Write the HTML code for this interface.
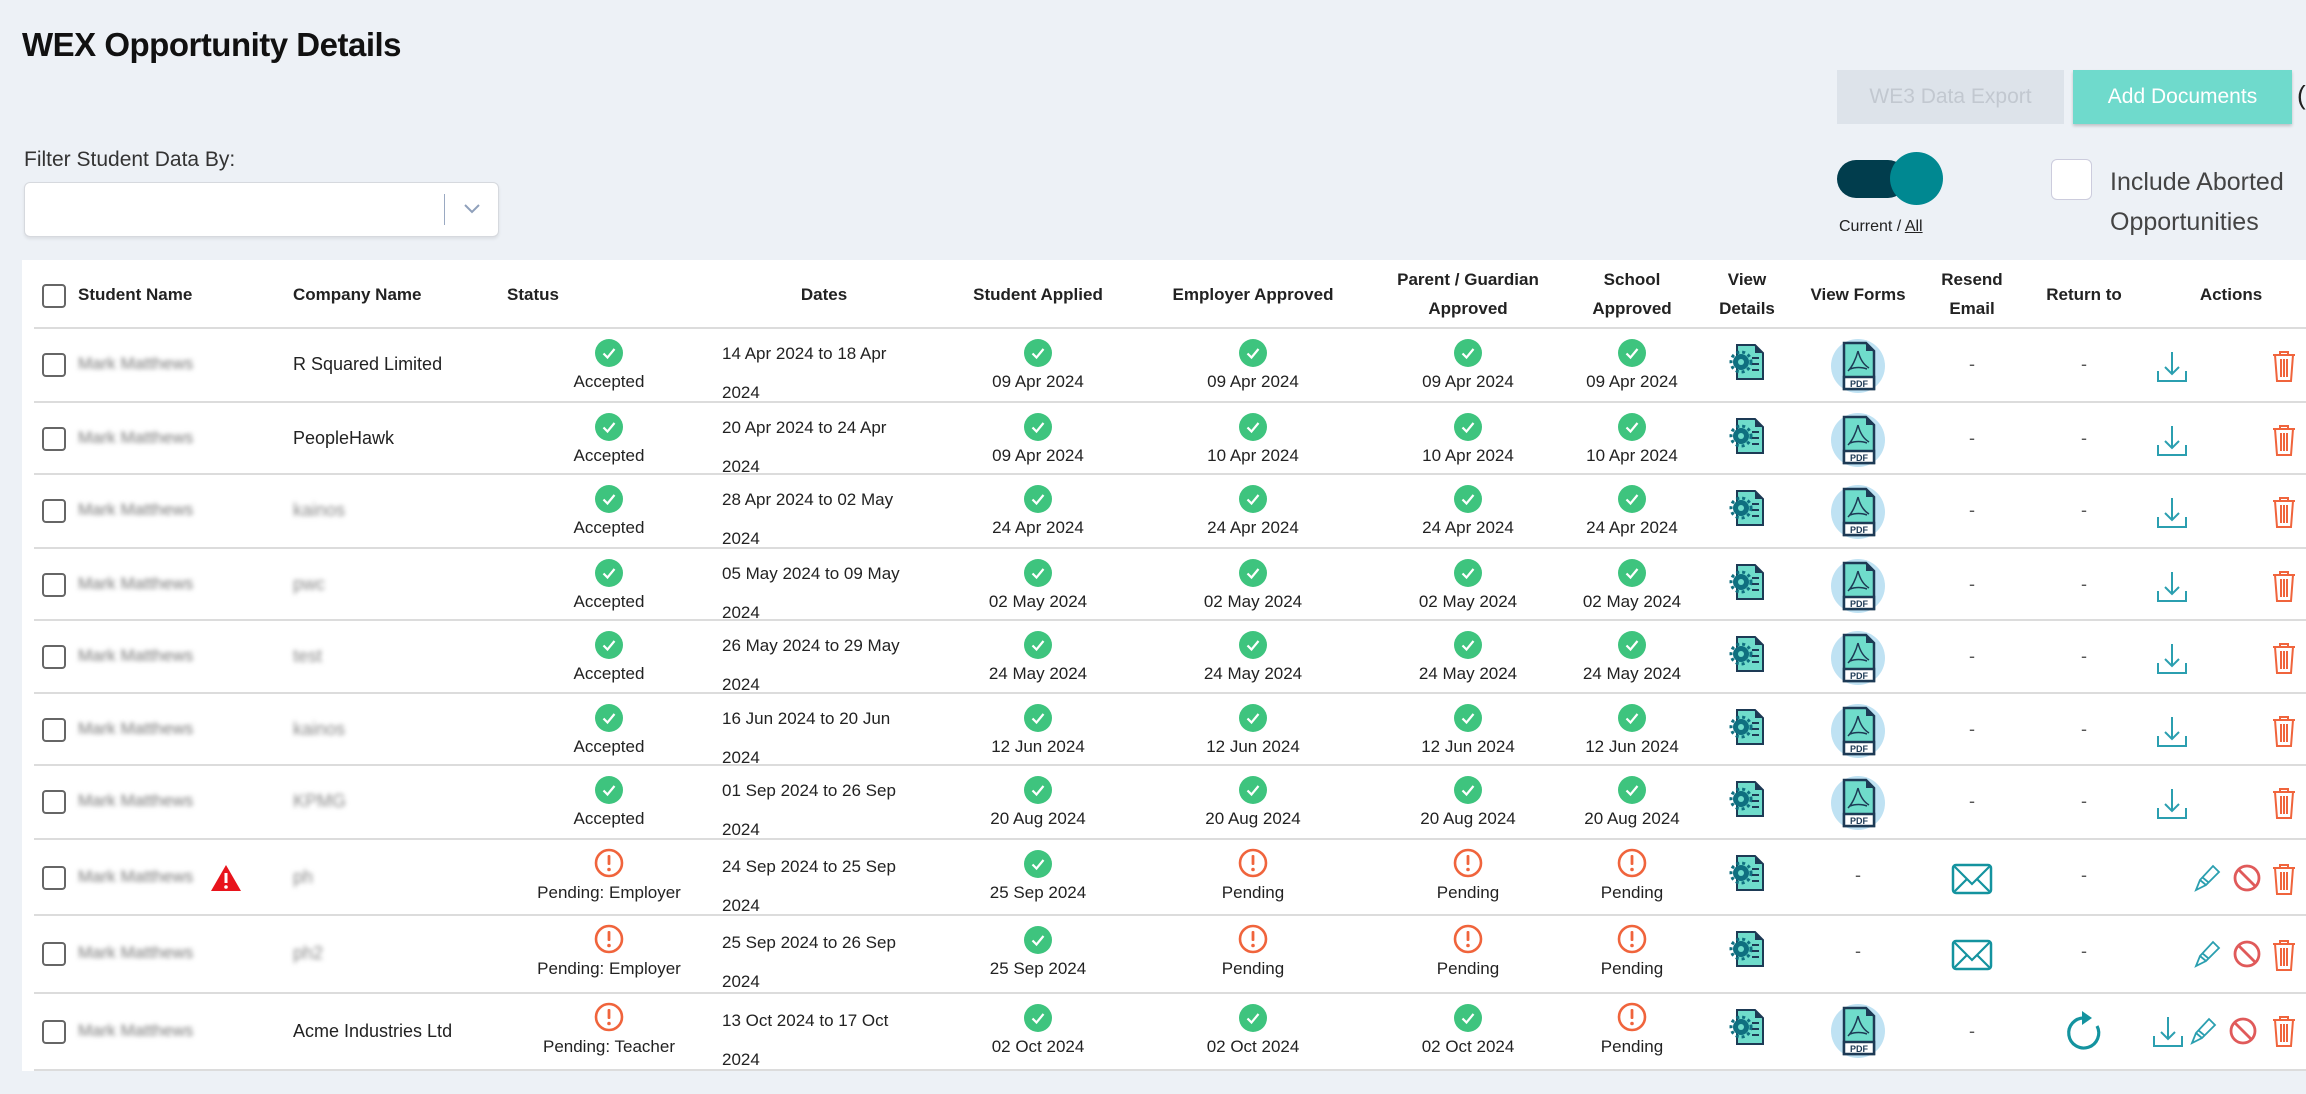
<!DOCTYPE html>
<html><head><meta charset="utf-8">
<style>
*{box-sizing:border-box;margin:0;padding:0}
body{width:2306px;height:1094px;background:#edf1f6;font-family:"Liberation Sans",sans-serif;color:#222;position:relative;overflow:hidden;font-size:18px}
.a{position:absolute}
h1{position:absolute;left:22px;top:26px;font-size:33px;font-weight:bold;letter-spacing:-0.5px;color:#111}
.btn{position:absolute;top:70px;height:54px;line-height:54px;text-align:center;font-size:21px}
.tbl{position:absolute;left:22px;top:260px;width:2290px;height:811px;background:#fff}
.row{position:absolute;left:34px;width:2272px;border-bottom:2px solid #dcdcdc}
.hd{font-weight:bold;font-size:17px;text-align:center;line-height:29px;position:absolute}
.cb{position:absolute;left:8px;width:24px;height:24px;border:2px solid #666;border-radius:4px;background:#fff}
.cell{position:absolute;width:180px;text-align:center;font-size:17px}
.cell svg{display:block;margin:0 auto}
.cell .t{margin-top:4px;line-height:22px}
.nm{position:absolute;left:44px;color:#777;filter:blur(2.5px);font-size:17px}
.co{position:absolute;left:259px;font-size:18px}
.dt{position:absolute;left:688px;font-size:17px;line-height:39px}
.dash{position:absolute;width:40px;text-align:center;color:#555}
</style></head><body>
<svg width="0" height="0" style="position:absolute">
<defs>
<symbol id="chk" viewBox="0 0 28 28"><circle cx="14" cy="14" r="14" fill="#3ec47e"/><polyline points="8.5,14.5 12.5,18.5 19.5,10" fill="none" stroke="#fff" stroke-width="2.2"/></symbol>
<symbol id="pen" viewBox="0 0 30 30"><circle cx="15" cy="15" r="13" fill="none" stroke="#f0643c" stroke-width="2.6"/><rect x="13.6" y="7" width="2.8" height="10" rx="1" fill="#f0643c"/><circle cx="15" cy="21.5" r="1.8" fill="#f0643c"/></symbol>
<symbol id="gear" viewBox="0 0 36 38"><path d="M8 2h18l8 8v26H8z" fill="#6fdccb" stroke="#1d3a55" stroke-width="2"/><path d="M26 2v8h8" fill="#1d3a55"/><circle cx="12" cy="19" r="8" fill="#0f6f80"/><circle cx="12" cy="19" r="10" fill="none" stroke="#0f6f80" stroke-width="3" stroke-dasharray="3 3"/><circle cx="12" cy="19" r="3" fill="#6fdccb"/><path d="M23 15h7M23 21h7M23 27h7" stroke="#1d3a55" stroke-width="2"/></symbol>
<symbol id="pdf" viewBox="0 0 54 54"><circle cx="27" cy="27" r="27" fill="#bfe2f3"/><path d="M13 4h22l8 8v38H13z" fill="#6fdccb" stroke="#1d3a55" stroke-width="2.5"/><path d="M35 4v8h8z" fill="#1d3a55"/><rect x="13" y="38" width="30" height="12" fill="#fff" stroke="#1d3a55" stroke-width="2.5"/><text x="28" y="48" font-size="9" font-weight="bold" text-anchor="middle" fill="#1d3a55" font-family="Liberation Sans">PDF</text><path d="M27 12c-2 8 -6 16 -10 20M27 12c2 8 6 14 11 17M19 30c5-2 12-2 17 0" fill="none" stroke="#1d3a55" stroke-width="1.5"/></symbol>
<symbol id="dl" viewBox="0 0 34 34"><path d="M17 3v22M10 18l7 7 7-7M3 22v10h28V22" fill="none" stroke="#2b9fb0" stroke-width="2"/></symbol>
<symbol id="tr" viewBox="0 0 28 34"><path d="M3 6h22M10 6V3h8v3M5 6l2 26h14l2-26M11 10v18M14 10v18M17 10v18" fill="none" stroke="#f0643c" stroke-width="2"/></symbol>
<symbol id="pc" viewBox="0 0 30 30"><path d="M3 28l4-10L20 4l6 6L13 23zM7 18l6 5M9 15l6 5" fill="none" stroke="#2b9fb0" stroke-width="1.8"/></symbol>
<symbol id="ban" viewBox="0 0 30 30"><circle cx="15" cy="15" r="12" fill="none" stroke="#e05a5a" stroke-width="2.8"/><path d="M7 7l16 16" stroke="#e05a5a" stroke-width="2.8"/></symbol>
<symbol id="env" viewBox="0 0 42 32"><rect x="2" y="2" width="38" height="28" rx="3" fill="none" stroke="#14939f" stroke-width="2.5"/><path d="M3 3l18 18L39 3M3 29l13-13M39 29L26 16" fill="none" stroke="#14939f" stroke-width="2.2"/></symbol>
<symbol id="rf" viewBox="0 0 40 44"><path d="M20 8A15 15 0 1 0 33 16" fill="none" stroke="#14939f" stroke-width="3.2"/><path d="M18 1l10 7-10 7z" fill="#14939f"/></symbol>
</defs></svg>

<h1>WEX Opportunity Details</h1>
<div class="btn" style="left:1837px;width:227px;background:#dde3ea;color:#c2c8d0">WE3 Data Export</div>
<div class="btn" style="left:2073px;width:219px;background:#6fdacc;color:#fff;box-shadow:0 2px 3px rgba(0,0,0,.2)">Add Documents</div>
<div class="a" style="left:2297px;top:80px;font-size:26px">(</div>

<div class="a" style="left:1837px;top:160px;width:70px;height:38px;border-radius:19px;background:#013d4d"></div>
<div class="a" style="left:1890px;top:152px;width:53px;height:53px;border-radius:50%;background:#008891"></div>
<div class="a" style="left:1839px;top:218px;font-size:16px">Current / <b style="text-decoration:underline;font-weight:normal">All</b></div>
<div class="a" style="left:2051px;top:159px;width:41px;height:41px;border:1.5px solid #ccd;border-radius:6px;background:#fff"></div>
<div class="a" style="left:2110px;top:162px;font-size:25px;color:#444;line-height:40px">Include Aborted<br>Opportunities</div>

<div class="a" style="left:24px;top:148px;font-size:21px;color:#333">Filter Student Data By:</div>
<div class="a" style="left:24px;top:182px;width:475px;height:55px;background:#fff;border:1px solid #d6d9de;border-radius:6px;box-shadow:0 2px 3px rgba(0,0,0,.08)"></div>
<div class="a" style="left:444px;top:194px;width:1px;height:31px;background:#9aa9c2"></div>
<svg class="a" style="left:463px;top:203px" width="18" height="12"><path d="M2 2l7 7 7-7" fill="none" stroke="#8fa0bb" stroke-width="2"/></svg>

<div class="tbl"></div>
<!-- header -->
<div class="row" style="top:260px;height:69px">
 <div class="cb" style="top:24px"></div>
 <div class="hd" style="left:44px;top:20px">Student Name</div>
 <div class="hd" style="left:259px;top:20px">Company Name</div>
 <div class="hd" style="left:473px;top:20px">Status</div>
 <div class="hd" style="left:740px;width:100px;top:20px">Dates</div>
 <div class="hd" style="left:904px;width:200px;top:20px">Student Applied</div>
 <div class="hd" style="left:1109px;width:220px;top:20px">Employer Approved</div>
 <div class="hd" style="left:1334px;width:200px;top:5px">Parent / Guardian<br>Approved</div>
 <div class="hd" style="left:1538px;width:120px;top:5px">School<br>Approved</div>
 <div class="hd" style="left:1673px;width:80px;top:5px">View<br>Details</div>
 <div class="hd" style="left:1769px;width:110px;top:20px">View Forms</div>
 <div class="hd" style="left:1888px;width:100px;top:5px">Resend<br>Email</div>
 <div class="hd" style="left:2000px;width:100px;top:20px">Return to</div>
 <div class="hd" style="left:2147px;width:100px;top:20px">Actions</div>
</div>

<!-- rows -->
<div class="row" style="top:329px;height:74px">
 <div class="cb" style="top:24px"></div><div class="nm" style="top:25px">Mark Matthews</div><div class="co" style="top:25px">R Squared Limited</div>
 <div class="cell" style="left:485px;top:10px"><svg width="28" height="28"><use href="#chk"/></svg><div class="t">Accepted</div></div>
 <div class="dt" style="top:5px">14 Apr 2024 to 18 Apr<br>2024</div>
 <div class="cell" style="left:914px;top:10px"><svg width="28" height="28"><use href="#chk"/></svg><div class="t">09 Apr 2024</div></div>
 <div class="cell" style="left:1129px;top:10px"><svg width="28" height="28"><use href="#chk"/></svg><div class="t">09 Apr 2024</div></div>
 <div class="cell" style="left:1344px;top:10px"><svg width="28" height="28"><use href="#chk"/></svg><div class="t">09 Apr 2024</div></div>
 <div class="cell" style="left:1508px;top:10px"><svg width="28" height="28"><use href="#chk"/></svg><div class="t">09 Apr 2024</div></div>
 <svg class="a" style="left:1695px;top:14px" width="36" height="38"><use href="#gear"/></svg>
 <svg class="a" style="left:1797px;top:10px" width="54" height="54"><use href="#pdf"/></svg>
 <div class="dash" style="left:1918px;top:25px">-</div><div class="dash" style="left:2030px;top:25px">-</div>
 <svg class="a" style="left:2121px;top:20px" width="34" height="34"><use href="#dl"/></svg>
 <svg class="a" style="left:2236px;top:20px" width="28" height="34"><use href="#tr"/></svg>
</div>

<div class="row" style="top:403px;height:72px">
 <div class="cb" style="top:24px"></div><div class="nm" style="top:25px">Mark Matthews</div><div class="co" style="top:25px">PeopleHawk</div>
 <div class="cell" style="left:485px;top:10px"><svg width="28" height="28"><use href="#chk"/></svg><div class="t">Accepted</div></div>
 <div class="dt" style="top:5px">20 Apr 2024 to 24 Apr<br>2024</div>
 <div class="cell" style="left:914px;top:10px"><svg width="28" height="28"><use href="#chk"/></svg><div class="t">09 Apr 2024</div></div>
 <div class="cell" style="left:1129px;top:10px"><svg width="28" height="28"><use href="#chk"/></svg><div class="t">10 Apr 2024</div></div>
 <div class="cell" style="left:1344px;top:10px"><svg width="28" height="28"><use href="#chk"/></svg><div class="t">10 Apr 2024</div></div>
 <div class="cell" style="left:1508px;top:10px"><svg width="28" height="28"><use href="#chk"/></svg><div class="t">10 Apr 2024</div></div>
 <svg class="a" style="left:1695px;top:14px" width="36" height="38"><use href="#gear"/></svg>
 <svg class="a" style="left:1797px;top:10px" width="54" height="54"><use href="#pdf"/></svg>
 <div class="dash" style="left:1918px;top:25px">-</div><div class="dash" style="left:2030px;top:25px">-</div>
 <svg class="a" style="left:2121px;top:20px" width="34" height="34"><use href="#dl"/></svg>
 <svg class="a" style="left:2236px;top:20px" width="28" height="34"><use href="#tr"/></svg>
</div>

<div class="row" style="top:475px;height:74px">
 <div class="cb" style="top:24px"></div><div class="nm" style="top:25px">Mark Matthews</div><div class="co" style="top:25px;filter:blur(2.5px);color:#888">kainos</div>
 <div class="cell" style="left:485px;top:10px"><svg width="28" height="28"><use href="#chk"/></svg><div class="t">Accepted</div></div>
 <div class="dt" style="top:5px">28 Apr 2024 to 02 May<br>2024</div>
 <div class="cell" style="left:914px;top:10px"><svg width="28" height="28"><use href="#chk"/></svg><div class="t">24 Apr 2024</div></div>
 <div class="cell" style="left:1129px;top:10px"><svg width="28" height="28"><use href="#chk"/></svg><div class="t">24 Apr 2024</div></div>
 <div class="cell" style="left:1344px;top:10px"><svg width="28" height="28"><use href="#chk"/></svg><div class="t">24 Apr 2024</div></div>
 <div class="cell" style="left:1508px;top:10px"><svg width="28" height="28"><use href="#chk"/></svg><div class="t">24 Apr 2024</div></div>
 <svg class="a" style="left:1695px;top:14px" width="36" height="38"><use href="#gear"/></svg>
 <svg class="a" style="left:1797px;top:10px" width="54" height="54"><use href="#pdf"/></svg>
 <div class="dash" style="left:1918px;top:25px">-</div><div class="dash" style="left:2030px;top:25px">-</div>
 <svg class="a" style="left:2121px;top:20px" width="34" height="34"><use href="#dl"/></svg>
 <svg class="a" style="left:2236px;top:20px" width="28" height="34"><use href="#tr"/></svg>
</div>

<div class="row" style="top:549px;height:72px">
 <div class="cb" style="top:24px"></div><div class="nm" style="top:25px">Mark Matthews</div><div class="co" style="top:25px;filter:blur(2.5px);color:#888">pwc</div>
 <div class="cell" style="left:485px;top:10px"><svg width="28" height="28"><use href="#chk"/></svg><div class="t">Accepted</div></div>
 <div class="dt" style="top:5px">05 May 2024 to 09 May<br>2024</div>
 <div class="cell" style="left:914px;top:10px"><svg width="28" height="28"><use href="#chk"/></svg><div class="t">02 May 2024</div></div>
 <div class="cell" style="left:1129px;top:10px"><svg width="28" height="28"><use href="#chk"/></svg><div class="t">02 May 2024</div></div>
 <div class="cell" style="left:1344px;top:10px"><svg width="28" height="28"><use href="#chk"/></svg><div class="t">02 May 2024</div></div>
 <div class="cell" style="left:1508px;top:10px"><svg width="28" height="28"><use href="#chk"/></svg><div class="t">02 May 2024</div></div>
 <svg class="a" style="left:1695px;top:14px" width="36" height="38"><use href="#gear"/></svg>
 <svg class="a" style="left:1797px;top:10px" width="54" height="54"><use href="#pdf"/></svg>
 <div class="dash" style="left:1918px;top:25px">-</div><div class="dash" style="left:2030px;top:25px">-</div>
 <svg class="a" style="left:2121px;top:20px" width="34" height="34"><use href="#dl"/></svg>
 <svg class="a" style="left:2236px;top:20px" width="28" height="34"><use href="#tr"/></svg>
</div>

<div class="row" style="top:621px;height:73px">
 <div class="cb" style="top:24px"></div><div class="nm" style="top:25px">Mark Matthews</div><div class="co" style="top:25px;filter:blur(2.5px);color:#888">test</div>
 <div class="cell" style="left:485px;top:10px"><svg width="28" height="28"><use href="#chk"/></svg><div class="t">Accepted</div></div>
 <div class="dt" style="top:5px">26 May 2024 to 29 May<br>2024</div>
 <div class="cell" style="left:914px;top:10px"><svg width="28" height="28"><use href="#chk"/></svg><div class="t">24 May 2024</div></div>
 <div class="cell" style="left:1129px;top:10px"><svg width="28" height="28"><use href="#chk"/></svg><div class="t">24 May 2024</div></div>
 <div class="cell" style="left:1344px;top:10px"><svg width="28" height="28"><use href="#chk"/></svg><div class="t">24 May 2024</div></div>
 <div class="cell" style="left:1508px;top:10px"><svg width="28" height="28"><use href="#chk"/></svg><div class="t">24 May 2024</div></div>
 <svg class="a" style="left:1695px;top:14px" width="36" height="38"><use href="#gear"/></svg>
 <svg class="a" style="left:1797px;top:10px" width="54" height="54"><use href="#pdf"/></svg>
 <div class="dash" style="left:1918px;top:25px">-</div><div class="dash" style="left:2030px;top:25px">-</div>
 <svg class="a" style="left:2121px;top:20px" width="34" height="34"><use href="#dl"/></svg>
 <svg class="a" style="left:2236px;top:20px" width="28" height="34"><use href="#tr"/></svg>
</div>

<div class="row" style="top:694px;height:72px">
 <div class="cb" style="top:24px"></div><div class="nm" style="top:25px">Mark Matthews</div><div class="co" style="top:25px;filter:blur(2.5px);color:#888">kainos</div>
 <div class="cell" style="left:485px;top:10px"><svg width="28" height="28"><use href="#chk"/></svg><div class="t">Accepted</div></div>
 <div class="dt" style="top:5px">16 Jun 2024 to 20 Jun<br>2024</div>
 <div class="cell" style="left:914px;top:10px"><svg width="28" height="28"><use href="#chk"/></svg><div class="t">12 Jun 2024</div></div>
 <div class="cell" style="left:1129px;top:10px"><svg width="28" height="28"><use href="#chk"/></svg><div class="t">12 Jun 2024</div></div>
 <div class="cell" style="left:1344px;top:10px"><svg width="28" height="28"><use href="#chk"/></svg><div class="t">12 Jun 2024</div></div>
 <div class="cell" style="left:1508px;top:10px"><svg width="28" height="28"><use href="#chk"/></svg><div class="t">12 Jun 2024</div></div>
 <svg class="a" style="left:1695px;top:14px" width="36" height="38"><use href="#gear"/></svg>
 <svg class="a" style="left:1797px;top:10px" width="54" height="54"><use href="#pdf"/></svg>
 <div class="dash" style="left:1918px;top:25px">-</div><div class="dash" style="left:2030px;top:25px">-</div>
 <svg class="a" style="left:2121px;top:20px" width="34" height="34"><use href="#dl"/></svg>
 <svg class="a" style="left:2236px;top:20px" width="28" height="34"><use href="#tr"/></svg>
</div>

<div class="row" style="top:766px;height:74px">
 <div class="cb" style="top:24px"></div><div class="nm" style="top:25px">Mark Matthews</div><div class="co" style="top:25px;filter:blur(2.5px);color:#888">KPMG</div>
 <div class="cell" style="left:485px;top:10px"><svg width="28" height="28"><use href="#chk"/></svg><div class="t">Accepted</div></div>
 <div class="dt" style="top:5px">01 Sep 2024 to 26 Sep<br>2024</div>
 <div class="cell" style="left:914px;top:10px"><svg width="28" height="28"><use href="#chk"/></svg><div class="t">20 Aug 2024</div></div>
 <div class="cell" style="left:1129px;top:10px"><svg width="28" height="28"><use href="#chk"/></svg><div class="t">20 Aug 2024</div></div>
 <div class="cell" style="left:1344px;top:10px"><svg width="28" height="28"><use href="#chk"/></svg><div class="t">20 Aug 2024</div></div>
 <div class="cell" style="left:1508px;top:10px"><svg width="28" height="28"><use href="#chk"/></svg><div class="t">20 Aug 2024</div></div>
 <svg class="a" style="left:1695px;top:14px" width="36" height="38"><use href="#gear"/></svg>
 <svg class="a" style="left:1797px;top:10px" width="54" height="54"><use href="#pdf"/></svg>
 <div class="dash" style="left:1918px;top:25px">-</div><div class="dash" style="left:2030px;top:25px">-</div>
 <svg class="a" style="left:2121px;top:20px" width="34" height="34"><use href="#dl"/></svg>
 <svg class="a" style="left:2236px;top:20px" width="28" height="34"><use href="#tr"/></svg>
</div>

<div class="row" style="top:840px;height:76px">
 <div class="cb" style="top:26px"></div><div class="nm" style="top:27px">Mark Matthews</div>
 <svg class="a" style="left:176px;top:24px" width="32" height="28"><path d="M16 1L31 27H1z" fill="#e8141c"/><rect x="14.5" y="9" width="3" height="10" fill="#fff"/><circle cx="16" cy="23" r="1.8" fill="#fff"/></svg>
 <div class="co" style="top:27px;filter:blur(2.5px);color:#888">ph</div>
 <div class="cell" style="left:485px;top:8px"><svg width="30" height="30"><use href="#pen"/></svg><div class="t">Pending: Employer</div></div>
 <div class="dt" style="top:7px">24 Sep 2024 to 25 Sep<br>2024</div>
 <div class="cell" style="left:914px;top:10px"><svg width="28" height="28"><use href="#chk"/></svg><div class="t">25 Sep 2024</div></div>
 <div class="cell" style="left:1129px;top:8px"><svg width="30" height="30"><use href="#pen"/></svg><div class="t">Pending</div></div>
 <div class="cell" style="left:1344px;top:8px"><svg width="30" height="30"><use href="#pen"/></svg><div class="t">Pending</div></div>
 <div class="cell" style="left:1508px;top:8px"><svg width="30" height="30"><use href="#pen"/></svg><div class="t">Pending</div></div>
 <svg class="a" style="left:1695px;top:14px" width="36" height="38"><use href="#gear"/></svg>
 <div class="dash" style="left:1804px;top:25px">-</div>
 <svg class="a" style="left:1917px;top:23px" width="42" height="32"><use href="#env"/></svg>
 <div class="dash" style="left:2030px;top:25px">-</div>
 <svg class="a" style="left:2159px;top:22px" width="30" height="30"><use href="#pc"/></svg>
 <svg class="a" style="left:2198px;top:23px" width="30" height="30"><use href="#ban"/></svg>
 <svg class="a" style="left:2236px;top:22px" width="28" height="34"><use href="#tr"/></svg>
</div>

<div class="row" style="top:916px;height:78px">
 <div class="cb" style="top:26px"></div><div class="nm" style="top:27px">Mark Matthews</div>
 <div class="co" style="top:27px;filter:blur(2.5px);color:#888">ph2</div>
 <div class="cell" style="left:485px;top:8px"><svg width="30" height="30"><use href="#pen"/></svg><div class="t">Pending: Employer</div></div>
 <div class="dt" style="top:7px">25 Sep 2024 to 26 Sep<br>2024</div>
 <div class="cell" style="left:914px;top:10px"><svg width="28" height="28"><use href="#chk"/></svg><div class="t">25 Sep 2024</div></div>
 <div class="cell" style="left:1129px;top:8px"><svg width="30" height="30"><use href="#pen"/></svg><div class="t">Pending</div></div>
 <div class="cell" style="left:1344px;top:8px"><svg width="30" height="30"><use href="#pen"/></svg><div class="t">Pending</div></div>
 <div class="cell" style="left:1508px;top:8px"><svg width="30" height="30"><use href="#pen"/></svg><div class="t">Pending</div></div>
 <svg class="a" style="left:1695px;top:14px" width="36" height="38"><use href="#gear"/></svg>
 <div class="dash" style="left:1804px;top:25px">-</div>
 <svg class="a" style="left:1917px;top:23px" width="42" height="32"><use href="#env"/></svg>
 <div class="dash" style="left:2030px;top:25px">-</div>
 <svg class="a" style="left:2159px;top:22px" width="30" height="30"><use href="#pc"/></svg>
 <svg class="a" style="left:2198px;top:23px" width="30" height="30"><use href="#ban"/></svg>
 <svg class="a" style="left:2236px;top:22px" width="28" height="34"><use href="#tr"/></svg>
</div>

<div class="row" style="top:994px;height:77px">
 <div class="cb" style="top:26px"></div><div class="nm" style="top:27px">Mark Matthews</div>
 <div class="co" style="top:27px">Acme Industries Ltd</div>
 <div class="cell" style="left:485px;top:8px"><svg width="30" height="30"><use href="#pen"/></svg><div class="t">Pending: Teacher</div></div>
 <div class="dt" style="top:7px">13 Oct 2024 to 17 Oct<br>2024</div>
 <div class="cell" style="left:914px;top:10px"><svg width="28" height="28"><use href="#chk"/></svg><div class="t">02 Oct 2024</div></div>
 <div class="cell" style="left:1129px;top:10px"><svg width="28" height="28"><use href="#chk"/></svg><div class="t">02 Oct 2024</div></div>
 <div class="cell" style="left:1344px;top:10px"><svg width="28" height="28"><use href="#chk"/></svg><div class="t">02 Oct 2024</div></div>
 <div class="cell" style="left:1508px;top:8px"><svg width="30" height="30"><use href="#pen"/></svg><div class="t">Pending</div></div>
 <svg class="a" style="left:1695px;top:14px" width="36" height="38"><use href="#gear"/></svg>
 <svg class="a" style="left:1797px;top:10px" width="54" height="54"><use href="#pdf"/></svg>
 <div class="dash" style="left:1918px;top:27px">-</div>
 <svg class="a" style="left:2030px;top:16px" width="40" height="44"><use href="#rf"/></svg>
 <svg class="a" style="left:2117px;top:20px" width="34" height="34"><use href="#dl"/></svg>
 <svg class="a" style="left:2155px;top:21px" width="30" height="30"><use href="#pc"/></svg>
 <svg class="a" style="left:2194px;top:22px" width="30" height="30"><use href="#ban"/></svg>
 <svg class="a" style="left:2236px;top:20px" width="28" height="34"><use href="#tr"/></svg>
</div>
</body></html>
